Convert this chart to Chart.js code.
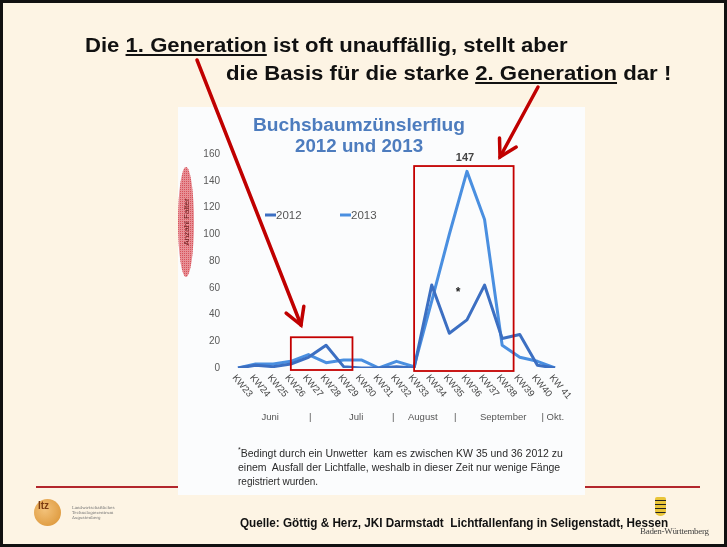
<!DOCTYPE html>
<html><head><meta charset="utf-8">
<script src="https://cdn.jsdelivr.net/npm/chart.js@4/dist/chart.umd.min.js"></script>
<style>
html,body{margin:0;padding:0;}
body{width:727px;height:547px;overflow:hidden;position:relative;background:#fdf4e4;font-family:"Liberation Sans",Arial,sans-serif;}
#frame{position:absolute;left:0;top:0;width:727px;height:547px;box-sizing:border-box;border:3px solid #111;z-index:10;pointer-events:none;}
#redline{position:absolute;left:36px;top:486px;width:664px;height:2px;background:#b3262c;}
#img{position:absolute;left:178px;top:107px;width:407px;height:388px;background:#fbfcfd;}
#c{position:absolute;left:0;top:0;z-index:3;}
.t{position:absolute;white-space:nowrap;z-index:5;transform-origin:left top;}
.narrow{font-family:"Liberation Sans Narrow","Arial Narrow","Liberation Sans",Arial,sans-serif;font-weight:bold;color:#111;}
.u{text-decoration:underline;text-decoration-thickness:2px;text-underline-offset:2px;}
.ctitle{font-weight:bold;font-size:18px;color:#4d7cbe;line-height:20px;}
.foot{font-size:10.5px;color:#2a2a2a;line-height:12px;}
.month{font-size:9.5px;color:#555;line-height:11px;}
#ltz{position:absolute;left:34px;top:499px;width:27px;height:27px;border-radius:50%;background:radial-gradient(circle at 40% 40%,#f3c27a,#d9902f);z-index:4;}
#ltztxt{position:absolute;left:38px;top:500px;font-size:10px;font-weight:bold;color:#7a3a10;z-index:5;}
.tiny{position:absolute;font-size:4px;color:#777;line-height:5px;z-index:5;font-family:"DejaVu Serif",serif;}
#crest{position:absolute;left:655px;top:497px;width:11px;height:19px;background:repeating-linear-gradient(180deg,#e9c53a 0 3px,#222 3px 4px);border-radius:2px 2px 5px 5px;z-index:4;}
#bw{position:absolute;left:640px;top:526px;font-size:9px;color:#444;font-family:"Liberation Serif","DejaVu Serif",serif;z-index:5;letter-spacing:-0.3px;}
</style></head>
<body>
<div id="frame"></div>
<div id="redline"></div>
<div id="img"></div>
<canvas id="c" width="727" height="547"></canvas>

<div class="t narrow" data-w="483" style="left:85px;top:34px;font-size:20px;line-height:22px;">Die <span class="u">1. Generation</span> ist oft unauffällig, stellt aber</div>
<div class="t narrow" data-w="445" style="left:226px;top:62px;font-size:20px;line-height:22px;">die Basis für die starke <span class="u">2. Generation</span> dar !</div>

<div class="t ctitle" data-w="212" data-cx="359" style="top:115px;">Buchsbaumzünslerflug</div>
<div class="t ctitle" data-w="128" data-cx="359" style="top:136px;">2012 und 2013</div>

<div class="t month" data-cx="270" style="top:411px;">Juni</div>
<div class="t month" data-cx="310" style="top:411px;">|</div>
<div class="t month" data-cx="356" style="top:411px;">Juli</div>
<div class="t month" data-cx="393" style="top:411px;">|</div>
<div class="t month" data-cx="423" style="top:411px;">August</div>
<div class="t month" data-cx="455" style="top:411px;">|</div>
<div class="t month" data-cx="503" style="top:411px;">September</div>
<div class="t month" data-cx="553" style="top:411px;">| Okt.</div>

<div class="t foot" data-w="325" style="left:238px;top:444px;"><sup style="font-size:7px;">*</sup>Bedingt durch ein Unwetter&nbsp; kam es zwischen KW 35 und 36 2012 zu</div>
<div class="t foot" data-w="322" style="left:238px;top:461px;">einem&nbsp; Ausfall der Lichtfalle, weshalb in dieser Zeit nur wenige Fänge</div>
<div class="t foot" data-w="80" style="left:238px;top:475px;">registriert wurden.</div>

<div id="ltz"></div><div id="ltztxt">ltz</div>
<div class="tiny" style="left:72px;top:505px;">Landwirtschaftliches<br>Technologiezentrum<br>Augustenberg</div>
<div id="crest"></div>
<div id="bw">Baden-Württemberg</div>
<div class="t narrow" data-w="428" style="left:240px;top:515px;font-size:13px;line-height:15px;">Quelle: Göttig &amp; Herz, JKI Darmstadt&nbsp; Lichtfallenfang in Seligenstadt, Hessen</div>

<script>
// ---- data ----
const categories = ['KW23','KW24','KW25','KW26','KW27','KW28','KW29','KW30','KW31','KW32','KW33','KW34','KW35','KW36','KW37','KW38','KW39','KW40','KW 41'];
const series2012 = [0, 2, 1, 3, 8, 17, 1, 0, 0, 1, 0, 62, 26, 36, 62, 22, 25, 2, 0];
const series2013 = [0, 3, 3, 5, 10, 4, 6, 6, 0, 5, 1, 50, 100, 147, 111, 17, 8, 5, 0];
const seriesLabels = ['2012', '2013'];
const yMin = 0, yMax = 160, yStep = 20;
const yAxisTitle = 'Anzahl Falter';

// fit slide texts
function fitTexts(){
  document.querySelectorAll('.t').forEach(el=>{
    const w = el.offsetWidth;
    let s = 1;
    if (el.dataset.w) { s = parseFloat(el.dataset.w) / w; el.style.transform = 'scaleX(' + s + ')'; }
    if (el.dataset.cx) { el.style.left = (parseFloat(el.dataset.cx) - w * s / 2) + 'px'; }
  });
}
fitTexts();

function arrow(ctx, x1, y1, x2, y2){
  ctx.beginPath(); ctx.moveTo(x1,y1); ctx.lineTo(x2,y2); ctx.stroke();
  const a = Math.atan2(y1-y2, x1-x2), L = 19, da = Math.PI/6;
  ctx.beginPath();
  ctx.moveTo(x2 + L*Math.cos(a+da), y2 + L*Math.sin(a+da));
  ctx.lineTo(x2, y2);
  ctx.lineTo(x2 + L*Math.cos(a-da), y2 + L*Math.sin(a-da));
  ctx.stroke();
}

const annot = {
  id: 'annot',
  afterDatasetsDraw(chart){
    const {ctx, scales:{x, y}} = chart;
    ctx.save();
    // x labels, rotated
    ctx.font = '9.5px "Liberation Sans", Arial, sans-serif';
    ctx.fillStyle = '#444'; ctx.textAlign = 'left'; ctx.textBaseline = 'middle';
    categories.forEach((c, i) => {
      const px = x.getPixelForValue(i);
      ctx.save(); ctx.translate(px - 4, y.bottom + 8); ctx.rotate(50 * Math.PI / 180);
      ctx.fillText(c, 0, 0); ctx.restore();
    });
    // legend
    const legPos = [[265, 215], [340, 215]];
    chart.data.datasets.forEach((ds, i) => {
      const [lx, ly] = legPos[i];
      ctx.strokeStyle = ds.borderColor; ctx.lineWidth = 3; ctx.lineCap = 'butt';
      ctx.beginPath(); ctx.moveTo(lx, ly); ctx.lineTo(lx + 11, ly); ctx.stroke();
      ctx.font = '11.5px "Liberation Sans", Arial, sans-serif'; ctx.fillStyle = '#555';
      ctx.textAlign = 'left'; ctx.textBaseline = 'middle';
      ctx.fillText(ds.label, lx + 11, ly + 0.5);
    });
    // peak label
    const d13 = chart.data.datasets[1].data;
    const im = d13.indexOf(Math.max(...d13));
    ctx.font = 'bold 11px "Liberation Sans", Arial, sans-serif'; ctx.fillStyle = '#444';
    ctx.textAlign = 'center'; ctx.textBaseline = 'bottom';
    ctx.fillText(String(d13[im]), x.getPixelForValue(im) - 2, y.getPixelForValue(d13[im]) - 8);
    // asterisk
    ctx.font = 'bold 12px "Liberation Sans", Arial, sans-serif'; ctx.fillStyle = '#222';
    ctx.textBaseline = 'middle';
    ctx.fillText('*', x.getPixelForValue(12.5), y.getPixelForValue(56));
    // red boxes
    ctx.strokeStyle = '#c40000'; ctx.lineWidth = 1.8;
    let x1 = x.getPixelForValue(3), x2 = x.getPixelForValue(6.5);
    let y1 = y.getPixelForValue(23), y2 = y.bottom + 2;
    ctx.strokeRect(x1, y1, x2 - x1, y2 - y1);
    x1 = x.getPixelForValue(10); x2 = x.getPixelForValue(15.65);
    y1 = y.getPixelForValue(151); y2 = y.bottom + 3;
    ctx.strokeRect(x1, y1, x2 - x1, y2 - y1);
    // y-axis title ellipse
    ctx.beginPath(); ctx.ellipse(186, 222, 8, 55, 0, 0, Math.PI * 2);
    ctx.fillStyle = 'rgba(215,55,65,0.55)'; ctx.fill();
    ctx.save(); ctx.clip();
    ctx.fillStyle = 'rgba(200,20,30,0.5)';
    for (let yy = 165; yy < 280; yy += 2) for (let xx = 177 + (yy % 4 ? 1 : 0); xx < 196; xx += 2) ctx.fillRect(xx, yy, 1, 1);
    ctx.restore();
    ctx.save(); ctx.translate(187, 222); ctx.rotate(-Math.PI / 2);
    ctx.font = '8px "Liberation Sans", Arial, sans-serif'; ctx.fillStyle = '#6a1c1c';
    ctx.textAlign = 'center'; ctx.textBaseline = 'middle';
    ctx.fillText(yAxisTitle, 0, 0); ctx.restore();
    // arrows
    ctx.strokeStyle = '#c00000'; ctx.lineWidth = 3.5; ctx.lineCap = 'round'; ctx.lineJoin = 'miter';
    arrow(ctx, 197, 60, 301, 325);
    arrow(ctx, 538, 87, 500, 157);
    ctx.restore();
  }
};

new Chart(document.getElementById('c'), {
  type: 'line',
  data: {
    labels: categories,
    datasets: [
      { label: seriesLabels[0], data: series2012, borderColor: '#3c6fc2', borderWidth: 3, pointRadius: 0, tension: 0, borderJoinStyle: 'round' },
      { label: seriesLabels[1], data: series2013, borderColor: '#4a8fe0', borderWidth: 3, pointRadius: 0, tension: 0, borderJoinStyle: 'round' }
    ]
  },
  options: {
    responsive: false, animation: false, devicePixelRatio: 1,
    layout: { padding: { left: 198, right: 172, top: 154, bottom: 179 } },
    plugins: { legend: { display: false }, tooltip: { enabled: false }, title: { display: false } },
    scales: {
      x: { display: false, offset: false },
      y: {
        min: yMin, max: yMax,
        afterFit: s => { s.width = 40; },
        grid: { display: false, drawTicks: false }, border: { display: false },
        ticks: { stepSize: yStep, padding: 18, color: '#595959', font: { size: 10, family: '"Liberation Sans", Arial, sans-serif' } }
      }
    }
  },
  plugins: [annot]
});
</script>
</body></html>
